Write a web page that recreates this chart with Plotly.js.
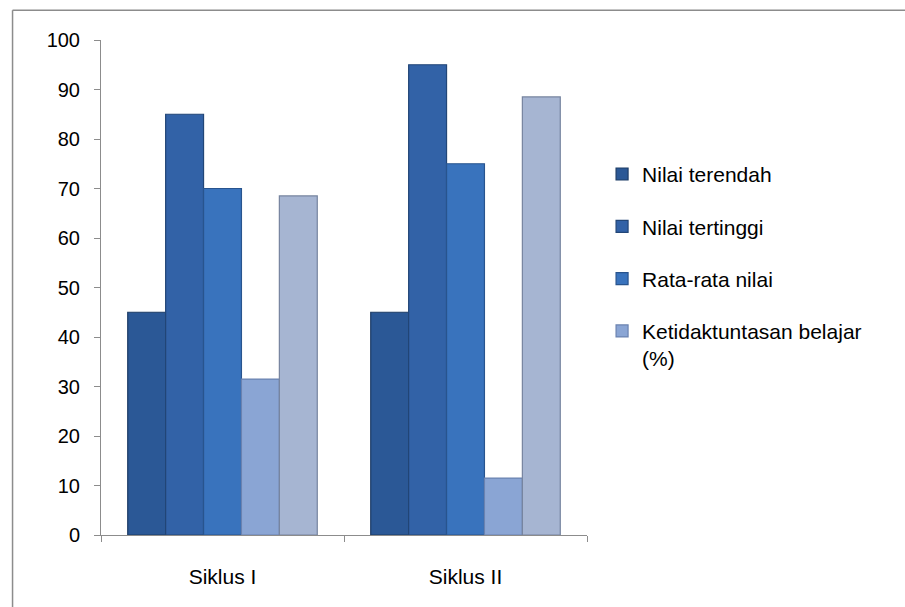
<!DOCTYPE html>
<html>
<head>
<meta charset="utf-8">
<script src="https://cdn.plot.ly/plotly-3.0.1.min.js"></script>
<style>html,body{margin:0;padding:0;background:#fff;}#chart{width:905px;height:607px;}</style>
</head>
<body>
<div id="chart"></div>
<script>
const categories = ["Siklus I", "Siklus II"];
const seriesNames = ["Nilai terendah", "Nilai tertinggi", "Rata-rata nilai", "Ketidaktuntasan belajar<br>(%)", "Ketuntasan belajar (%)"];
const nilaiTerendah = [45, 45];
const nilaiTertinggi = [85, 95];
const rataRataNilai = [70, 75];
const ketidaktuntasan = [31.5, 11.5];
const ketuntasan = [68.5, 88.5];
const yTicks = [0, 10, 20, 30, 40, 50, 60, 70, 80, 90, 100];

const seriesValues = [nilaiTerendah, nilaiTertinggi, rataRataNilai, ketidaktuntasan, ketuntasan];
const colors = ["#2b5896", "#3262a7", "#3973bd", "#8aa5d4", "#a6b5d2"];
const lines = ["#1d3c66", "#224677", "#28548e", "#6a82b0", "#76849f"];
const showLeg = [true, true, true, true, false];

const traces = seriesValues.map((vals, i) => ({
  type: "bar",
  x: categories,
  y: vals,
  name: seriesNames[i],
  legendgroup: "g" + i,
  showlegend: showLeg[i],
  marker: { color: colors[i], line: { color: lines[i], width: 1.2 } },
  hoverinfo: "y+name"
}));

const layout = {
  width: 905, height: 607,
  margin: { l: 101, r: 318, t: 40, b: 72 },
  paper_bgcolor: "#ffffff", plot_bgcolor: "#ffffff",
  font: { family: "Liberation Sans, Arial, sans-serif", size: 20, color: "#000" },
  barmode: "group",
  bargap: 0.22,
  bargroupgap: 0,
  xaxis: {
    type: "category",
    showline: true, linecolor: "#8c8c8c", linewidth: 1,
    ticks: "outside", tickson: "boundaries", ticklen: 6, tickcolor: "#8c8c8c",
    showgrid: false, zeroline: false,
    tickfont: { size: 21 },
    ticklabelstandoff: 23
  },
  yaxis: {
    range: [0, 100],
    tickvals: yTicks,
    showline: true, linecolor: "#8c8c8c", linewidth: 1,
    ticks: "outside", ticklen: 6, tickcolor: "#8c8c8c",
    showgrid: false, zeroline: false,
    tickfont: { size: 20 },
    ticklabelstandoff: 10
  },
  legend: {
    x: 1.031, y: 0.77, xanchor: "left", yanchor: "top",
    font: { size: 21 },
    tracegroupgap: 22,
    valign: "top",
    bgcolor: "rgba(0,0,0,0)"
  },
  shapes: [
    { type: "line", xref: "paper", yref: "paper", x0: -0.182, x1: -0.182, y0: -0.2, y1: 1.06, line: { color: "#8c8c8c", width: 1.5 } },
    { type: "line", xref: "paper", yref: "paper", x0: -0.182, x1: 1.7, y0: 1.06, y1: 1.06, line: { color: "#8c8c8c", width: 1.5 } }
  ]
};

Plotly.newPlot("chart", traces, layout, { displayModeBar: false, staticPlot: true });
</script>
</body>
</html>
